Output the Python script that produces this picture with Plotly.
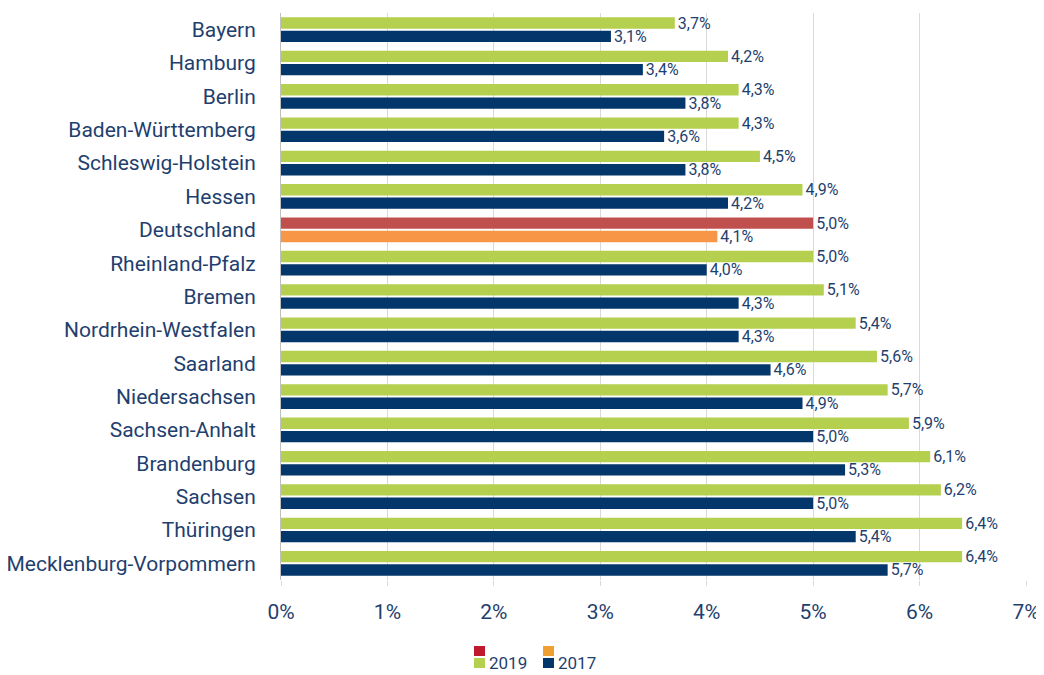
import plotly.graph_objects as go

states = ["Bayern", "Hamburg", "Berlin", "Baden-Württemberg", "Schleswig-Holstein", "Hessen",
          "Deutschland", "Rheinland-Pfalz", "Bremen", "Nordrhein-Westfalen", "Saarland",
          "Niedersachsen", "Sachsen-Anhalt", "Brandenburg", "Sachsen", "Thüringen",
          "Mecklenburg-Vorpommern"]
v2019 = [3.7, 4.2, 4.3, 4.3, 4.5, 4.9, 5.0, 5.0, 5.1, 5.4, 5.6, 5.7, 5.9, 6.1, 6.2, 6.4, 6.4]
v2017 = [3.1, 3.4, 3.8, 3.6, 3.8, 4.2, 4.1, 4.0, 4.3, 4.3, 4.6, 4.9, 5.0, 5.3, 5.0, 5.4, 5.7]
x_ticks = [0, 1, 2, 3, 4, 5, 6, 7]
tick_labels = [f"{t}%" for t in x_ticks]

GREEN = "#B5CF4F"
NAVY = "#03366B"
RED = "#C0504D"
ORANGE = "#F79646"
TEXT = "#1F3F6E"
FONT = "Roboto, sans-serif"

c2019 = [RED if s == "Deutschland" else GREEN for s in states]
c2017 = [ORANGE if s == "Deutschland" else NAVY for s in states]

def fmt(v):
    return f"{v:.1f}".replace(".", ",") + "%"

fig = go.Figure()
fig.add_trace(go.Bar(y=states, x=v2019, orientation="h", name="2019",
                     marker=dict(color=c2019, line=dict(width=0)),
                     text=[fmt(v) for v in v2019], textposition="outside",
                     constraintext="none",
                     textfont=dict(color=TEXT, size=16, family=FONT), cliponaxis=False))
fig.add_trace(go.Bar(y=states, x=v2017, orientation="h", name="2017",
                     marker=dict(color=c2017, line=dict(width=0)),
                     text=[fmt(v) for v in v2017], textposition="outside",
                     constraintext="none",
                     textfont=dict(color=TEXT, size=16, family=FONT), cliponaxis=False))

# page has an 8px body margin; work in page pixels and convert
OFF = 8
W, H = 1044 - OFF, 675 - OFF
ml, mr, mt = 281 - OFF, 18, 13 - OFF
mb = H - mt - 567
pw, ph = W - ml - mr, H - mt - mb

def px(x):
    return (x - OFF - ml) / pw

def py(y):
    return (H - mb - (y - OFF)) / ph

shapes = []
annots = []
# custom legend
for (x0, ctop, cbot, label) in [(474, "#C0182C", GREEN, "2019"), (543, "#F0A030", NAVY, "2017")]:
    shapes.append(dict(type="rect", xref="paper", yref="paper", x0=px(x0), x1=px(x0 + 11),
                       y0=py(656), y1=py(646), fillcolor=ctop, line=dict(width=0)))
    shapes.append(dict(type="rect", xref="paper", yref="paper", x0=px(x0), x1=px(x0 + 11),
                       y0=py(668), y1=py(658), fillcolor=cbot, line=dict(width=0)))
    annots.append(dict(xref="paper", yref="paper", x=px(x0 + 13), y=py(663), text=label,
                       showarrow=False, xanchor="left", yanchor="middle",
                       font=dict(color=TEXT, size=17, family=FONT)))

fig.update_layout(
    width=W, height=H,
    margin=dict(l=ml, r=mr, t=mt, b=mb, autoexpand=False),
    paper_bgcolor="white", plot_bgcolor="white",
    barmode="group", bargap=0.2, bargroupgap=0.15,
    showlegend=False,
    shapes=shapes, annotations=annots,
    xaxis=dict(range=[0, 7], tickvals=x_ticks, ticktext=tick_labels,
               showgrid=True, gridcolor="#D9D9D9", gridwidth=1,
               ticks="outside", ticklen=5, tickcolor="#D9D9D9",
               ticklabelstandoff=8, automargin=False,
               tickfont=dict(color=TEXT, size=21, family=FONT),
               zeroline=False, showline=False),
    yaxis=dict(autorange="reversed", categoryorder="array", categoryarray=states,
               showline=True, linecolor="#BFBFBF", linewidth=1,
               ticks="", ticklabelstandoff=20, automargin=False,
               tickfont=dict(color=TEXT, size=21, family=FONT)),
)

fig.write_html("out.html")
